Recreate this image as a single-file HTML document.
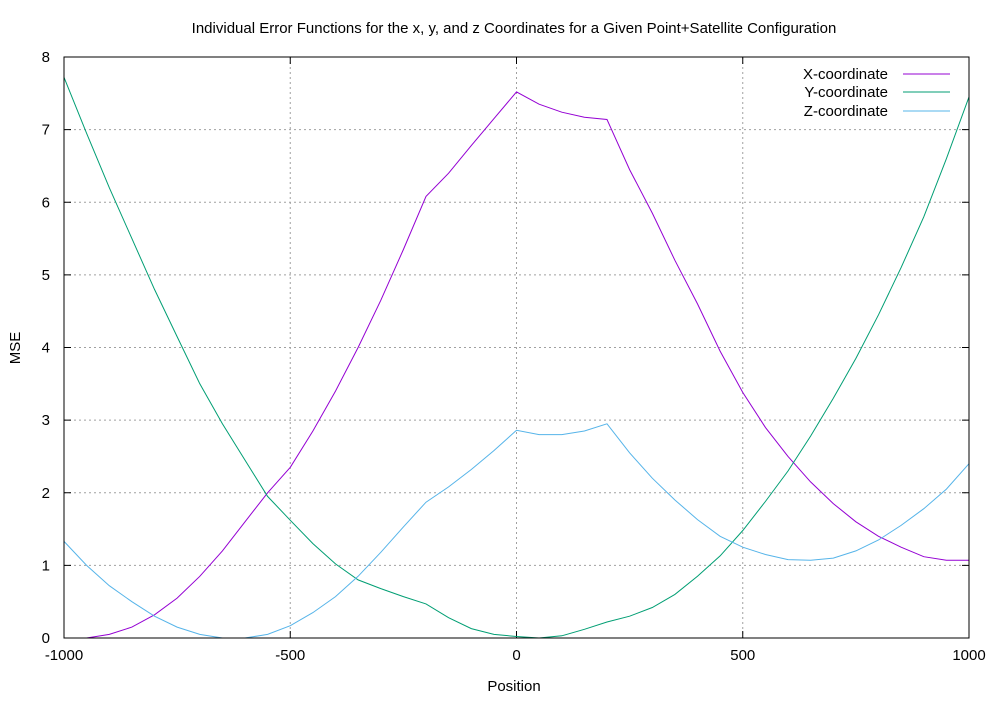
<!DOCTYPE html>
<html><head><meta charset="utf-8"><style>
body{margin:0;background:#fff}
svg{font-family:"Liberation Sans",Arial,sans-serif}
</style></head><body>
<svg id="chart" width="1000" height="700">
<text x="514" y="33" text-anchor="middle" font-size="15">Individual Error Functions for the x, y, and z Coordinates for a Given Point+Satellite Configuration</text>
<text x="514" y="691" text-anchor="middle" font-size="15">Position</text>
<text x="20" y="348" text-anchor="middle" font-size="15" transform="rotate(-90 20 348)">MSE</text>
<g id="grid"></g><g id="ticks"></g><g id="series"></g>
<rect x="64" y="57" width="905" height="581" fill="none" stroke="#000" stroke-width="1"/>
<g font-size="15">
<text x="888" y="79" text-anchor="end">X-coordinate</text>
<line x1="903" y1="74" x2="950" y2="74" stroke="#9400d3"/>
<text x="888" y="97" text-anchor="end">Y-coordinate</text>
<line x1="903" y1="92" x2="950" y2="92" stroke="#009e73"/>
<text x="888" y="116" text-anchor="end">Z-coordinate</text>
<line x1="903" y1="111" x2="950" y2="111" stroke="#56b4e9"/>
</g>
</svg>
<script>
const positions=[-1000,-950,-900,-850,-800,-750,-700,-650,-600,-550,-500,-450,-400,-350,-300,-250,-200,-150,-100,-50,0,50,100,150,200,250,300,350,400,450,500,550,600,650,700,750,800,850,900,950,1000];
const xSeries=[null,0,0.05,0.15,0.32,0.55,0.85,1.2,1.6,2.0,2.35,2.85,3.4,4.0,4.65,5.35,6.08,6.4,6.78,7.15,7.52,7.35,7.24,7.17,7.14,6.45,5.85,5.2,4.6,3.95,3.38,2.9,2.5,2.15,1.85,1.6,1.4,1.25,1.12,1.07,1.07];
const ySeries=[7.72,6.95,6.2,5.5,4.8,4.15,3.5,2.95,2.45,1.95,1.62,1.3,1.02,0.8,0.68,0.57,0.47,0.28,0.13,0.05,0.02,0,0.03,0.12,0.22,0.3,0.42,0.6,0.85,1.13,1.48,1.88,2.3,2.78,3.3,3.85,4.45,5.1,5.8,6.6,7.45];
const zSeries=[1.33,1.0,0.72,0.5,0.3,0.15,0.05,0,0,0.05,0.17,0.35,0.57,0.85,1.18,1.53,1.87,2.08,2.32,2.58,2.86,2.8,2.8,2.85,2.95,2.55,2.2,1.9,1.63,1.4,1.25,1.15,1.08,1.07,1.1,1.2,1.35,1.55,1.78,2.05,2.4];
const xTicks=[-1000,-500,0,500,1000];
const yTicks=[0,1,2,3,4,5,6,7,8];
const NS="http://www.w3.org/2000/svg";
const L=64,R=969,T=57,B=638;
function sx(v){return L+(v+1000)/2000*(R-L);}
function sy(v){return B-v/8*(B-T);}
function mk(tag,attrs,parent){const e=document.createElementNS(NS,tag);for(const k in attrs)e.setAttribute(k,attrs[k]);parent.appendChild(e);return e;}
const grid=document.getElementById('grid'),ticks=document.getElementById('ticks'),ser=document.getElementById('series');
xTicks.forEach(t=>{const x=sx(t);
 if(t>-1000&&t<1000){const g=mk('line',{x1:x,y1:T,x2:x,y2:B,stroke:'#a0a0a0','stroke-dasharray':'2,3'},grid);
 
 }
 mk('line',{x1:x,y1:B,x2:x,y2:B-7,stroke:'#000'},ticks);
 mk('line',{x1:x,y1:T,x2:x,y2:T+7,stroke:'#000'},ticks);
 const tx=mk('text',{x:x,y:B+22,'text-anchor':'middle','font-size':15},ticks);tx.textContent=t;
 
 
});
yTicks.forEach(t=>{const y=sy(t);
 if(t>0&&t<8){const g=mk('line',{x1:L,y1:y,x2:R,y2:y,stroke:'#a0a0a0','stroke-dasharray':'2,3'},grid);
 
 }
 mk('line',{x1:L,y1:y,x2:L+7,y2:y,stroke:'#000'},ticks);
 mk('line',{x1:R,y1:y,x2:R-7,y2:y,stroke:'#000'},ticks);
 const tx=mk('text',{x:L-14,y:y+5,'text-anchor':'end','font-size':15},ticks);tx.textContent=t;
 
 
});
function draw(vals,color,name){let d='';let started=false;
 vals.forEach((v,i)=>{if(v===null)return;d+=(started?'L':'M')+sx(positions[i]).toFixed(1)+','+sy(v).toFixed(1);started=true;});
 const p=mk('path',{d:d,fill:'none',stroke:color,'stroke-width':1},ser);
 
 
}
draw(xSeries,'#9400d3','x-coordinate-line');
draw(ySeries,'#009e73','y-coordinate-line');
draw(zSeries,'#56b4e9','z-coordinate-line');
</script>
</body></html>
